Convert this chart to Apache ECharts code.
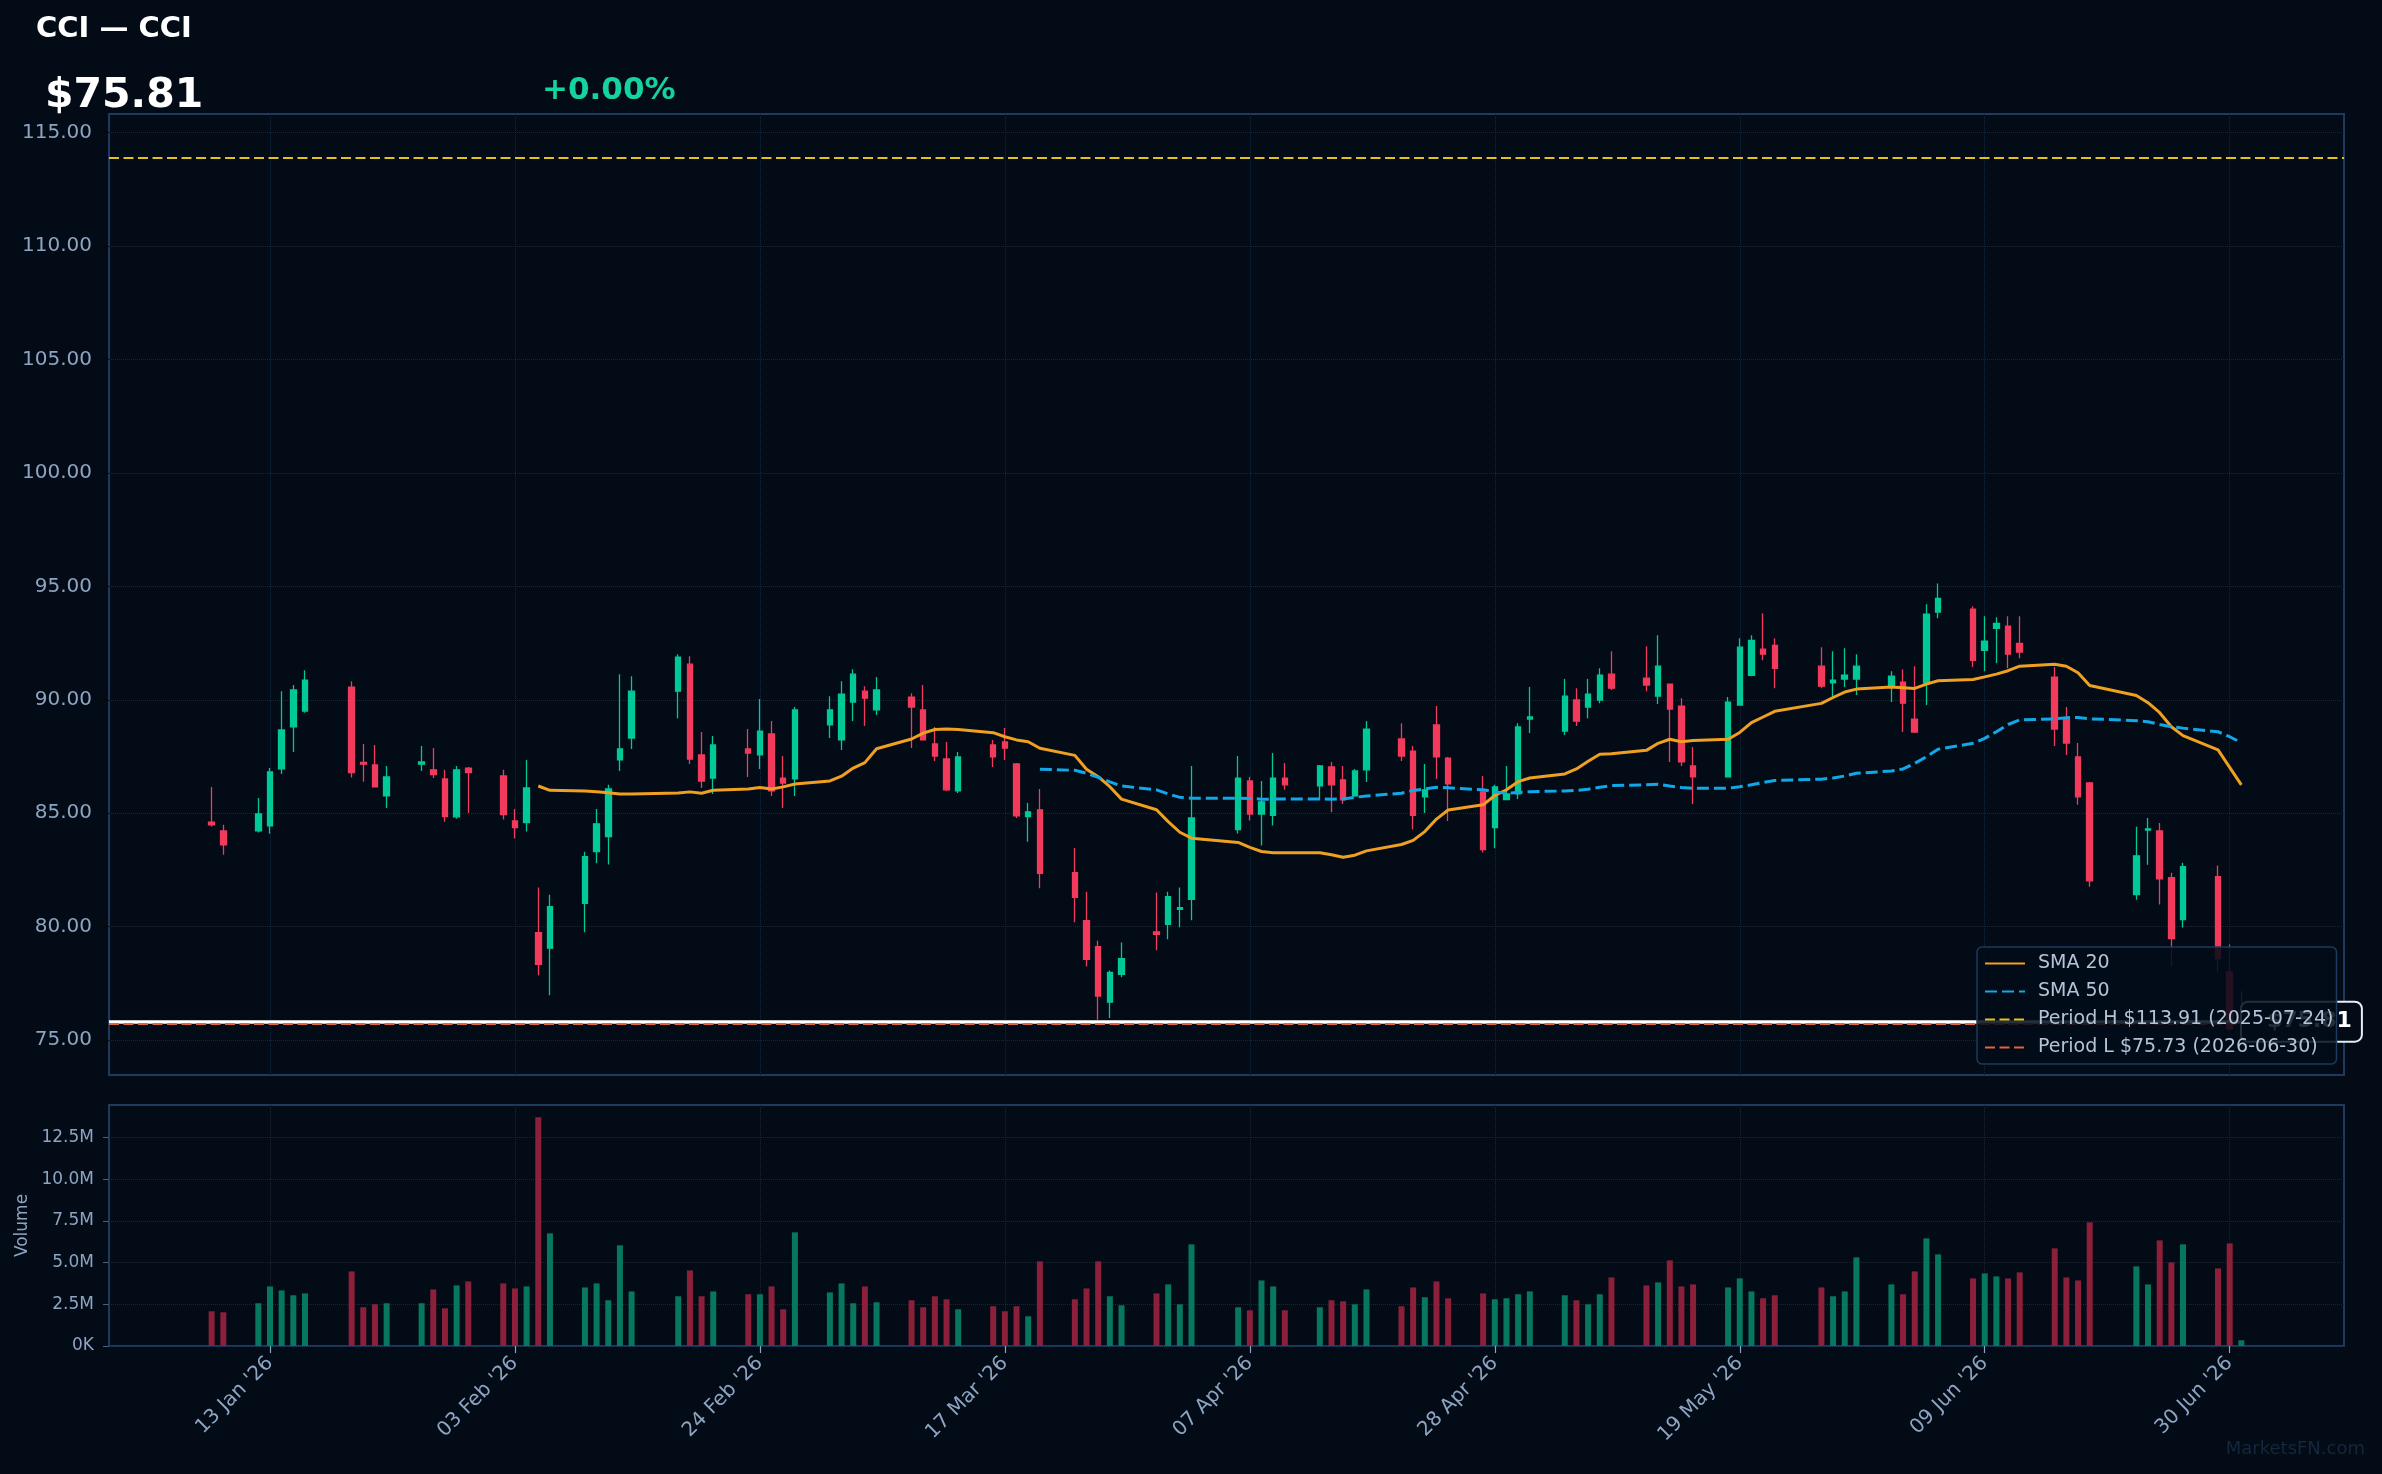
<!DOCTYPE html>
<html>
<head>
<meta charset="utf-8">
<title>CCI — CCI</title>
<script src="https://cdn.jsdelivr.net/npm/echarts@6/dist/echarts.min.js"></script>
<style>
html, body { margin: 0; padding: 0; background: #020b16; }
#chart { width: 2382px; height: 1474px; }
</style>
</head>
<body>
<div id="chart"></div>
<script>
// ---- data ----
var ticker = 'CCI';
var lastPrice = 75.81;
var changePct = 0.00;
var periodHigh = 113.91, periodHighDate = '2025-07-24';
var periodLow = 75.73, periodLowDate = '2026-06-30';

var dates = [
  '2026-01-08','2026-01-09','2026-01-12','2026-01-13','2026-01-14','2026-01-15','2026-01-16',
  '2026-01-20','2026-01-21','2026-01-22','2026-01-23',
  '2026-01-26','2026-01-27','2026-01-28','2026-01-29','2026-01-30',
  '2026-02-02','2026-02-03','2026-02-04','2026-02-05','2026-02-06',
  '2026-02-09','2026-02-10','2026-02-11','2026-02-12','2026-02-13',
  '2026-02-17','2026-02-18','2026-02-19','2026-02-20',
  '2026-02-23','2026-02-24','2026-02-25','2026-02-26','2026-02-27',
  '2026-03-02','2026-03-03','2026-03-04','2026-03-05','2026-03-06',
  '2026-03-09','2026-03-10','2026-03-11','2026-03-12','2026-03-13',
  '2026-03-16','2026-03-17','2026-03-18','2026-03-19','2026-03-20',
  '2026-03-23','2026-03-24','2026-03-25','2026-03-26','2026-03-27',
  '2026-03-30','2026-03-31','2026-04-01','2026-04-02',
  '2026-04-06','2026-04-07','2026-04-08','2026-04-09','2026-04-10',
  '2026-04-13','2026-04-14','2026-04-15','2026-04-16','2026-04-17',
  '2026-04-20','2026-04-21','2026-04-22','2026-04-23','2026-04-24',
  '2026-04-27','2026-04-28','2026-04-29','2026-04-30','2026-05-01',
  '2026-05-04','2026-05-05','2026-05-06','2026-05-07','2026-05-08',
  '2026-05-11','2026-05-12','2026-05-13','2026-05-14','2026-05-15',
  '2026-05-18','2026-05-19','2026-05-20','2026-05-21','2026-05-22',
  '2026-05-26','2026-05-27','2026-05-28','2026-05-29',
  '2026-06-01','2026-06-02','2026-06-03','2026-06-04','2026-06-05',
  '2026-06-08','2026-06-09','2026-06-10','2026-06-11','2026-06-12',
  '2026-06-15','2026-06-16','2026-06-17','2026-06-18',
  '2026-06-22','2026-06-23','2026-06-24','2026-06-25','2026-06-26',
  '2026-06-29','2026-06-30','2026-07-01'
];

var opens = [
  84.60, 84.22, 84.22, 84.44, 86.95, 88.81, 89.50,
  90.56, 87.24, 87.13, 85.76,
  87.16, 86.91, 86.51, 84.84, 86.99,
  86.64, 84.66, 84.59, 79.74, 79.05,
  81.03, 83.31, 83.97, 87.35, 88.31,
  90.38, 91.57, 87.57, 86.55,
  87.83, 87.57, 88.49, 86.55, 86.51,
  88.89, 88.23, 89.90, 90.38, 89.55,
  90.12, 89.55, 88.05, 87.39, 85.98,
  88.01, 88.14, 87.17, 84.85, 85.15,
  82.38, 80.26, 79.12, 76.67, 77.90,
  79.77, 80.10, 80.76, 81.20,
  84.28, 86.42, 84.96, 84.90, 86.55,
  86.20, 87.04, 86.47, 85.76, 86.91,
  88.27, 87.74, 85.72, 88.89, 87.43,
  85.94, 84.37, 85.60, 85.85, 89.15,
  88.62, 89.99, 89.68, 89.99, 91.13,
  90.95, 90.16, 90.69, 89.72, 87.08,
  86.60, 89.77, 91.08, 92.23, 92.40,
  91.48, 90.75, 90.91, 90.91,
  90.60, 90.78, 89.15, 90.73, 93.86,
  93.99, 92.18, 93.15, 93.24, 92.49,
  91.00, 89.15, 87.48, 86.33,
  81.41, 84.25, 84.22, 82.16, 80.31,
  82.20, 78.01, 75.78
];

var highs = [
  86.16, 84.49, 85.67, 86.99, 90.38, 90.65, 91.30,
  90.82, 88.05, 88.01, 87.08,
  87.96, 87.87, 86.91, 87.08, 87.04,
  86.91, 85.19, 87.35, 81.72, 81.41,
  83.30, 85.19, 86.25, 91.13, 91.04,
  92.01, 91.92, 88.58, 88.40,
  88.71, 90.03, 89.06, 87.52, 89.68,
  90.16, 90.82, 91.35, 90.60, 91.00,
  90.29, 90.65, 88.80, 88.14, 87.70,
  88.23, 88.76, 87.21, 85.45, 86.07,
  83.47, 81.54, 79.38, 78.07, 79.30,
  81.50, 81.54, 81.72, 87.08,
  87.52, 86.60, 86.42, 87.65, 87.21,
  87.13, 87.26, 87.08, 86.95, 89.06,
  88.97, 87.96, 87.17, 89.72, 87.48,
  86.64, 86.25, 87.08, 88.97, 90.56,
  90.91, 90.51, 90.91, 91.39, 92.14,
  92.36, 92.84, 90.69, 90.07, 87.92,
  90.12, 92.71, 92.84, 93.81, 92.71,
  92.32, 92.14, 92.27, 92.01,
  91.26, 91.35, 91.48, 94.21, 95.13,
  94.12, 93.68, 93.64, 93.68, 93.68,
  91.44, 89.68, 88.09, 86.38,
  84.40, 84.79, 84.57, 82.38, 82.82,
  82.69, 79.21, 77.15
];

var lows = [
  84.41, 83.17, 84.15, 84.09, 86.73, 87.70, 89.43,
  86.57, 86.39, 86.13, 85.23,
  86.86, 86.55, 84.62, 84.75, 85.01,
  84.72, 83.89, 84.19, 77.86, 76.98,
  79.75, 82.79, 82.74, 86.86, 87.83,
  89.19, 87.17, 86.11, 85.85,
  86.60, 86.95, 85.76, 85.23, 85.76,
  88.31, 87.79, 89.06, 88.84, 89.33,
  87.87, 88.23, 87.30, 85.98, 85.89,
  87.04, 87.35, 84.79, 83.74, 81.69,
  80.19, 78.24, 75.90, 75.97, 77.77,
  78.96, 79.44, 79.97, 80.28,
  84.11, 84.68, 83.58, 84.46, 86.03,
  85.59, 85.04, 85.41, 85.72, 86.38,
  87.30, 84.28, 85.01, 86.51, 84.66,
  83.27, 83.45, 85.60, 85.63, 88.53,
  88.45, 88.84, 89.19, 89.85, 90.43,
  90.38, 89.81, 87.26, 87.08, 85.41,
  86.60, 89.77, 91.04, 91.74, 90.51,
  90.51, 90.07, 90.56, 90.21,
  89.90, 88.58, 88.53, 89.77, 93.59,
  91.44, 91.26, 91.61, 91.39, 91.83,
  87.96, 87.57, 85.37, 81.76,
  81.19, 82.73, 80.97, 78.24, 79.96,
  77.98, 75.40, 75.55
];

var closes = [
  84.49, 83.61, 84.97, 86.82, 88.67, 90.43, 90.87,
  86.79, 87.16, 86.16, 86.60,
  87.26, 86.70, 84.85, 86.91, 86.79,
  84.94, 84.37, 86.11, 78.34, 80.88,
  83.08, 84.53, 86.07, 87.83, 90.38,
  91.88, 87.39, 86.42, 88.01,
  87.65, 88.62, 85.98, 86.33, 89.55,
  89.55, 90.25, 91.13, 90.07, 90.43,
  89.68, 88.23, 87.52, 86.03, 87.48,
  87.48, 87.87, 84.88, 85.06, 82.35,
  81.29, 78.56, 76.94, 77.98, 78.59,
  79.66, 81.32, 80.84, 84.79,
  86.55, 84.96, 85.50, 86.55, 86.25,
  87.08, 86.25, 85.59, 86.86, 88.71,
  87.52, 84.90, 86.03, 87.48, 86.29,
  83.40, 86.16, 85.85, 88.80, 89.24,
  90.16, 89.06, 90.25, 91.08, 90.51,
  90.65, 91.48, 89.59, 87.26, 86.60,
  89.90, 92.32, 92.62, 92.01, 91.39,
  90.60, 90.87, 91.08, 91.48,
  91.04, 89.85, 88.58, 93.77, 94.47,
  91.74, 92.58, 93.37, 92.01, 92.10,
  88.71, 88.09, 85.72, 82.02,
  83.12, 84.31, 82.11, 79.47, 82.64,
  78.59, 75.50, 75.81
];

// volume in millions
var volumes = [
  2.08, 2.02, 2.56, 3.57, 3.33, 3.04, 3.15,
  4.47, 2.32, 2.50, 2.56,
  2.56, 3.39, 2.26, 3.63, 3.87,
  3.75, 3.45, 3.57, 13.70, 6.75,
  3.51, 3.75, 2.74, 6.03, 3.27,
  2.98, 4.53, 2.98, 3.27,
  3.10, 3.10, 3.57, 2.20, 6.81,
  3.21, 3.75, 2.56, 3.57, 2.62,
  2.74, 2.32, 2.98, 2.80, 2.20,
  2.38, 2.08, 2.38, 1.78, 5.07,
  2.80, 3.45, 5.07, 2.98, 2.44,
  3.15, 3.69, 2.50, 6.09,
  2.32, 2.14, 3.93, 3.57, 2.14,
  2.32, 2.74, 2.68, 2.50, 3.39,
  2.38, 3.51, 2.92, 3.87, 2.86,
  3.15, 2.80, 2.86, 3.10, 3.27,
  3.04, 2.74, 2.50, 3.10, 4.11,
  3.63, 3.81, 5.13, 3.57, 3.69,
  3.51, 4.05, 3.27, 2.86, 3.04,
  3.51, 2.98, 3.27, 5.31,
  3.69, 3.10, 4.47, 6.45, 5.49,
  4.05, 4.35, 4.17, 4.05, 4.41,
  5.85, 4.11, 3.93, 7.41,
  4.77, 3.69, 6.33, 5.01, 6.09,
  4.65, 6.15, 0.34
];

// SMA 20 from 2026-02-05, SMA 50 from 2026-03-20 (as drawn)
var sma20Start = '2026-02-05';
var sma20 = [
  86.20, 86.01, 85.98, 85.95, 85.90, 85.85, 85.85, 85.89, 85.94, 85.88, 86.01,
  86.07, 86.13, 86.07, 86.16, 86.29,
  86.42, 86.63, 86.99, 87.23, 87.84, 88.27, 88.53, 88.69, 88.71, 88.69,
  88.55, 88.37, 88.23, 88.15, 87.86, 87.55, 86.94, 86.61, 86.17, 85.62,
  85.15, 84.63, 84.16, 83.90, 83.71, 83.49, 83.31, 83.26, 83.26,
  83.26, 83.17, 83.06, 83.15, 83.34, 83.62, 83.80, 84.19, 84.74, 85.14,
  85.37, 85.78, 86.03, 86.39, 86.55, 86.73, 86.95, 87.29, 87.60, 87.62,
  87.77, 88.08, 88.26, 88.15, 88.20, 88.26, 88.56, 88.99, 89.24, 89.49,
  89.84, 90.10, 90.34, 90.47, 90.56, 90.53, 90.50, 90.69, 90.84,
  90.89, 91.01, 91.13, 91.28, 91.48, 91.57, 91.48, 91.19, 90.63,
  90.19, 89.87, 89.43, 88.81, 88.42, 87.79, 87.02, 86.25
];
var sma50Start = '2026-03-20';
var sma50 = [
  86.94, 86.89, 86.76, 86.58, 86.38, 86.20, 86.03, 85.85,
  85.70, 85.66, 85.66, 85.65, 85.62, 85.62, 85.63, 85.63, 85.62, 85.63,
  85.70, 85.76, 85.88, 86.00, 86.07, 86.14, 86.12, 86.03, 85.94, 85.88, 85.91,
  85.95, 85.98, 86.00, 86.06, 86.14, 86.22, 86.25, 86.28, 86.20, 86.13,
  86.10, 86.10, 86.17, 86.25, 86.35, 86.44, 86.50, 86.55, 86.64, 86.76,
  86.86, 86.95, 87.20, 87.49, 87.82, 88.08, 88.30, 88.59, 88.91, 89.11,
  89.16, 89.21, 89.22, 89.16, 89.08, 89.03, 88.91, 88.81, 88.75,
  88.59, 88.37, 88.11
];

var tickDates = ['2026-01-13','2026-02-03','2026-02-24','2026-03-17','2026-04-07',
                 '2026-04-28','2026-05-19','2026-06-09','2026-06-30'];
var priceTicks = [75, 80, 85, 90, 95, 100, 105, 110, 115];
var volumeTicks = [0, 2.5e6, 5e6, 7.5e6, 10e6, 12.5e6];

// ---- helpers ----
var months = ['Jan','Feb','Mar','Apr','May','Jun','Jul','Aug','Sep','Oct','Nov','Dec'];
var base = Date.UTC(2026, 0, 1);
function dayNum(s) {
    var p = s.split('-');
    return (Date.UTC(+p[0], +p[1] - 1, +p[2]) - base) / 86400000;
}
function dayLabel(d) {
    var dt = new Date(base + Math.round(d) * 86400000);
    var dd = dt.getUTCDate();
    return (dd < 10 ? '0' + dd : dd) + ' ' + months[dt.getUTCMonth()] + " '" + String(dt.getUTCFullYear()).slice(2);
}

var xs = dates.map(dayNum);
var ticksX = tickDates.map(dayNum);
var i20 = dates.indexOf(sma20Start), i50 = dates.indexOf(sma50Start);

var upColor = '#00c897', downColor = '#f23a5c';
var upVol = '#07785f', downVol = '#8c203a';
var labelColor = '#8da4c2', gridColor = '#16273b', frameColor = '#1e3a5c';
var font = 'DejaVu Sans';

var candleData = xs.map(function (x, i) { return [x, opens[i], closes[i], lows[i], highs[i]]; });
var volData = xs.map(function (x, i) {
    return { value: [x, volumes[i] * 1e6], itemStyle: { color: closes[i] >= opens[i] ? upVol : downVol } };
});
var sma20Data = sma20.map(function (v, k) { return [xs[i20 + k], v]; });
var sma50Data = sma50.map(function (v, k) { return [xs[i50 + k], v]; });

var nameH = 'Period H $' + periodHigh.toFixed(2) + ' (' + periodHighDate + ')';
var nameL = 'Period L $' + periodLow.toFixed(2) + ' (' + periodLowDate + ')';

var xMin = -1.8, xMax = 189.8;

var chart = echarts.init(document.getElementById('chart'));
var option = {
    backgroundColor: '#020b16',
    animation: false,
    textStyle: { fontFamily: font },
    graphic: [
        { type: 'text', left: 36, top: 15, style: { text: ticker + ' — ' + ticker, fill: '#ffffff', font: 'bold 29px "DejaVu Sans"' } },
        { type: 'text', left: 45, top: 76, style: { text: '$' + lastPrice.toFixed(2), fill: '#ffffff', font: 'bold 41px "DejaVu Sans"' } },
        { type: 'text', left: 542, top: 75, style: { text: (changePct >= 0 ? '+' : '') + changePct.toFixed(2) + '%', fill: '#16d2a0', font: 'bold 31px "DejaVu Sans"' } },
        { type: 'text', right: 17, top: 1440, style: { text: 'MarketsFN.com', fill: '#16273c', font: '18px "DejaVu Sans"' } }
    ],
    legend: {
        data: ['SMA 20', 'SMA 50', nameH, nameL],
        orient: 'vertical',
        left: 1977, top: 947,
        padding: [7, 3, 7, 7],
        itemGap: 9,
        itemWidth: 40, itemHeight: 14,
        itemStyle: { opacity: 0 },
        backgroundColor: 'rgba(2,12,24,0.86)',
        borderColor: frameColor, borderWidth: 1.5, borderRadius: 5,
        selectedMode: false,
        z: 20,
        textStyle: { color: '#b4c3d6', fontSize: 19, fontFamily: font, padding: [0, 0, 0, 8] }
    },
    grid: [
        { left: 109, right: 38, top: 114, height: 961, show: true, borderColor: frameColor, borderWidth: 2, backgroundColor: 'transparent' },
        { left: 109, right: 38, top: 1105, height: 241, show: true, borderColor: frameColor, borderWidth: 2, backgroundColor: 'transparent' }
    ],
    xAxis: [
        {
            type: 'value', gridIndex: 0, min: xMin, max: xMax,
            axisLine: { show: false, onZero: false },
            axisTick: { show: false, customValues: ticksX },
            axisLabel: { show: false, customValues: ticksX },
            splitLine: { show: true, lineStyle: { color: gridColor, type: 'dotted', width: 1 } }
        },
        {
            type: 'value', gridIndex: 1, min: xMin, max: xMax,
            axisLine: { show: false, onZero: false },
            axisTick: { show: true, length: 7, lineStyle: { color: labelColor, width: 1.2 }, customValues: ticksX },
            axisLabel: {
                customValues: ticksX, rotate: 45, margin: 14,
                color: labelColor, fontSize: 20, fontFamily: font,
                formatter: function (v) { return dayLabel(v); }
            },
            splitLine: { show: true, lineStyle: { color: gridColor, type: 'dotted', width: 1 } }
        }
    ],
    yAxis: [
        {
            type: 'value', gridIndex: 0, min: 73.46, max: 115.82,
            axisLine: { show: false, onZero: false },
            axisTick: { show: true, length: 7, lineStyle: { color: '#05080c', width: 1.2 }, customValues: priceTicks },
            axisLabel: {
                customValues: priceTicks, margin: 17,
                color: labelColor, fontSize: 20, fontFamily: font,
                formatter: function (v) { return v.toFixed(2); }
            },
            splitLine: { show: true, lineStyle: { color: gridColor, type: 'dotted', width: 1 } }
        },
        {
            type: 'value', gridIndex: 1, min: 0, max: 14.44e6,
            name: 'Volume', nameLocation: 'middle', nameGap: 77,
            nameTextStyle: { color: labelColor, fontSize: 17, fontFamily: font },
            axisLine: { show: false, onZero: false },
            axisTick: { show: true, length: 6, lineStyle: { color: '#4a6080', width: 1 }, customValues: volumeTicks },
            axisLabel: {
                customValues: volumeTicks, margin: 15,
                color: labelColor, fontSize: 17, fontFamily: font,
                formatter: function (v) { return v === 0 ? '0K' : (v / 1e6).toFixed(1) + 'M'; }
            },
            splitLine: { show: true, lineStyle: { color: gridColor, type: 'dotted', width: 1 } }
        }
    ],
    series: [
        {
            name: 'Price', type: 'candlestick', xAxisIndex: 0, yAxisIndex: 0,
            data: candleData,
            encode: { x: 0, y: [1, 2, 3, 4] },
            barWidth: 6,
            itemStyle: { color: upColor, color0: downColor, borderColor: upColor, borderColor0: downColor, borderWidth: 1.3 },
            markLine: {
                silent: true, symbol: ['none', 'none'],
                lineStyle: { color: '#ffffff', type: 'solid', width: 3.5 },
                label: {
                    show: true, position: 'end', distance: -102,
                    formatter: '$' + lastPrice.toFixed(2),
                    color: '#ffffff', fontWeight: 'bold', fontSize: 22, fontFamily: font,
                    backgroundColor: '#020b16', borderColor: '#e8eef5', borderWidth: 2, borderRadius: 6,
                    padding: [8, 9, 8, 25]
                },
                data: [{ yAxis: lastPrice }]
            },
            z: 2
        },
        {
            name: 'SMA 20', type: 'line', xAxisIndex: 0, yAxisIndex: 0,
            data: sma20Data, symbol: 'none',
            lineStyle: { color: '#f0a020', width: 3 }, itemStyle: { color: '#f0a020' }, z: 4
        },
        {
            name: 'SMA 50', type: 'line', xAxisIndex: 0, yAxisIndex: 0,
            data: sma50Data, symbol: 'none',
            lineStyle: { color: '#12a8e8', width: 3, type: [12, 5] }, itemStyle: { color: '#12a8e8' }, z: 4
        },
        {
            name: nameH, type: 'line', xAxisIndex: 0, yAxisIndex: 0,
            data: [], symbol: 'none',
            lineStyle: { color: '#e3c21a', width: 2.2, type: [10, 4.5] }, itemStyle: { color: '#e3c21a' },
            markLine: {
                silent: true, symbol: ['none', 'none'], label: { show: false },
                lineStyle: { color: '#e3c21a', width: 2.2, type: [10, 4.5] },
                data: [{ yAxis: periodHigh }]
            }
        },
        {
            name: nameL, type: 'line', xAxisIndex: 0, yAxisIndex: 0,
            data: [], symbol: 'none',
            lineStyle: { color: '#e0643c', width: 2.2, type: [10, 4.5] }, itemStyle: { color: '#e0643c' },
            markLine: {
                silent: true, symbol: ['none', 'none'], label: { show: false },
                lineStyle: { color: '#e0643c', width: 2.2, type: [10, 4.5] },
                data: [{ yAxis: periodLow }]
            }
        },
        {
            name: 'Volume', type: 'bar', xAxisIndex: 1, yAxisIndex: 1,
            data: volData, barWidth: 6
        }
    ]
};
chart.setOption(option);
</script>
</body>
</html>
